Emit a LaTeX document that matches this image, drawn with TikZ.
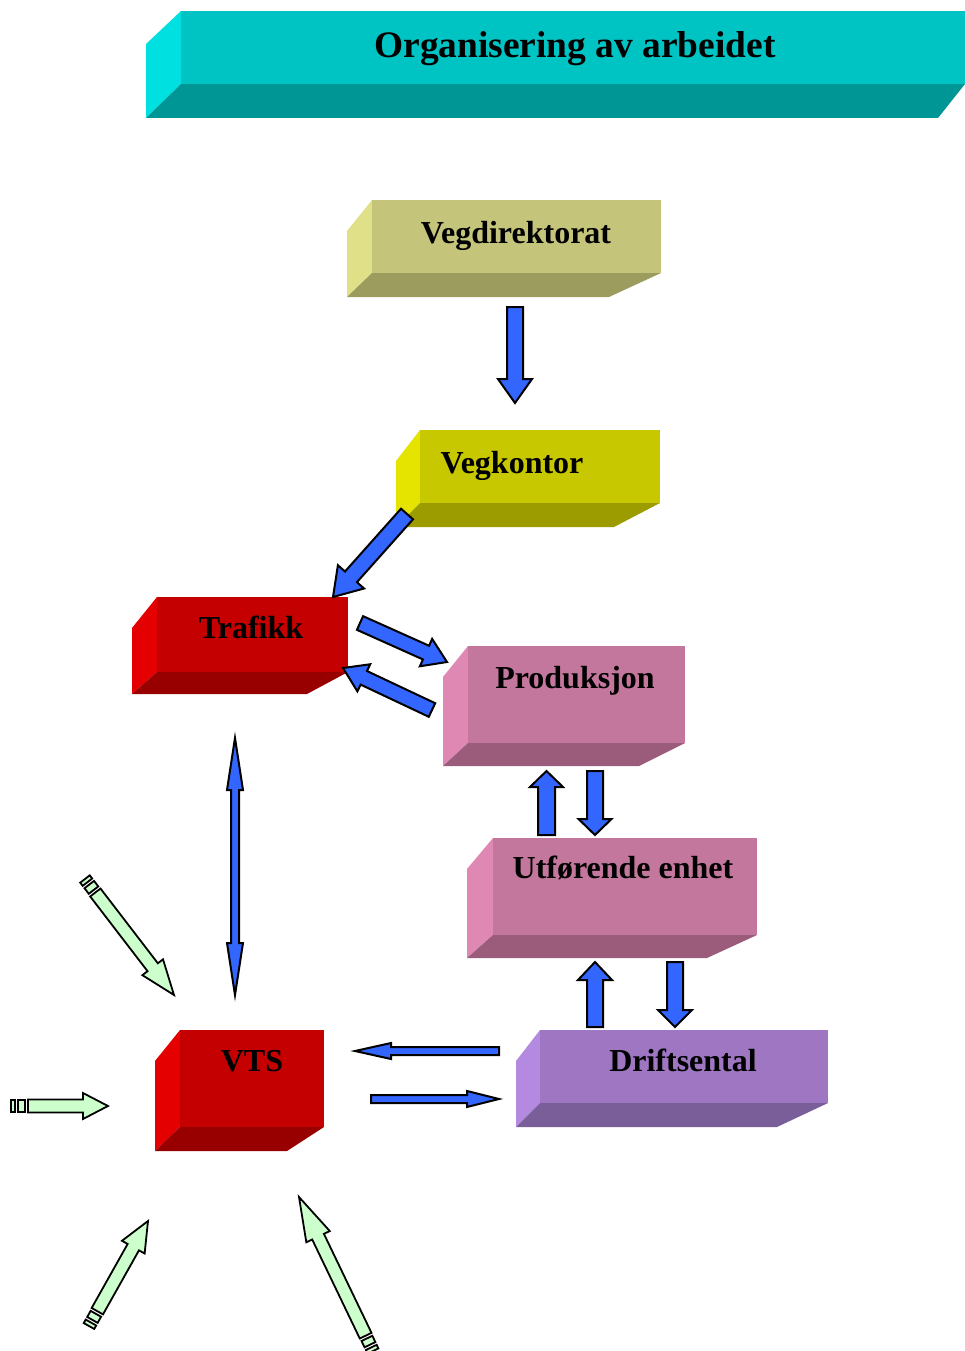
\documentclass[tikz,border=0pt]{standalone}
\usepackage{fontspec}
\setmainfont{Liberation Serif}
\usetikzlibrary{calc}

% palettes: -f front face, -s left side, -b bottom face
\definecolor{tt-f}{HTML}{00C4C4}\definecolor{tt-s}{HTML}{00E0E0}\definecolor{tt-b}{HTML}{009696}
\definecolor{vd-f}{HTML}{C4C47A}\definecolor{vd-s}{HTML}{E0E088}\definecolor{vd-b}{HTML}{9C9C5E}
\definecolor{vk-f}{HTML}{C8C800}\definecolor{vk-s}{HTML}{E4E400}\definecolor{vk-b}{HTML}{9C9C00}
\definecolor{rd-f}{HTML}{C40000}\definecolor{rd-s}{HTML}{E40000}\definecolor{rd-b}{HTML}{980000}
\definecolor{pk-f}{HTML}{C4779C}\definecolor{pk-s}{HTML}{E088B4}\definecolor{pk-b}{HTML}{9A5C7A}
\definecolor{pu-f}{HTML}{9E76C2}\definecolor{pu-s}{HTML}{B48AE0}\definecolor{pu-b}{HTML}{7A5E9A}
\definecolor{arrowblue}{HTML}{3366FF}
\definecolor{arrowgreen}{HTML}{CCFFCC}

\newcommand\slabtop{31}
% 3D slab: name, palette, x1, y1, x2, y2 (front face), left x, bottom y, bottom-right x
\newcommand\slab[9]{%
  \fill[#2-s] (#3,#4) -- (#7,#4+\slabtop) -- (#7,#8) -- (#3,#6) -- cycle;
  \fill[#2-b] (#3,#6) -- (#5,#6) -- (#9,#8) -- (#7,#8) -- cycle;
  \node[fill=#2-f, inner sep=0pt, outer sep=0pt, anchor=north west,
        minimum width={(#5-#3)*1pt}, minimum height={(#6-#4)*1pt}] (#1) at (#3,#4) {};
}
% block arrow: style, tail, tip, half shaft, half head, head length
\newcommand\blockarrow[6]{%
  \coordinate (ba-b) at ($(#3)!#6!(#2)$);
  \draw[#1] ($(#2)!#4!90:(#3)$) -- ($(ba-b)!#4!90:(#3)$) -- ($(ba-b)!#5!90:(#3)$) -- (#3)
    -- ($(ba-b)!#5!-90:(#3)$) -- ($(ba-b)!#4!-90:(#3)$) -- ($(#2)!#4!-90:(#3)$) -- cycle;
}
% double-headed block arrow: style, tip A, tip B, half shaft, half head, head length
\newcommand\dblarrow[6]{%
  \coordinate (da-a) at ($(#2)!#6!(#3)$);
  \coordinate (da-b) at ($(#3)!#6!(#2)$);
  \draw[#1] (#2) -- ($(da-a)!#5!90:(#3)$) -- ($(da-a)!#4!90:(#3)$) -- ($(da-b)!#4!90:(#3)$)
    -- ($(da-b)!#5!90:(#3)$) -- (#3) -- ($(da-b)!#5!-90:(#3)$) -- ($(da-b)!#4!-90:(#3)$)
    -- ($(da-a)!#4!-90:(#3)$) -- ($(da-a)!#5!-90:(#3)$) -- cycle;
}
% striped arrow: tail, tip, head length
\newcommand\stripearrow[3]{%
  \coordinate (sa-1) at ($(#1)!4pt!(#2)$);
  \coordinate (sa-2) at ($(#1)!7pt!(#2)$);
  \coordinate (sa-3) at ($(#1)!14pt!(#2)$);
  \coordinate (sa-4) at ($(#1)!17pt!(#2)$);
  \draw[greenarrow] ($(#1)!6pt!90:(#2)$) -- ($(sa-1)!6pt!90:(#2)$) -- ($(sa-1)!6pt!-90:(#2)$) -- ($(#1)!6pt!-90:(#2)$) -- cycle;
  \draw[greenarrow] ($(sa-2)!6pt!90:(#2)$) -- ($(sa-3)!6pt!90:(#2)$) -- ($(sa-3)!6pt!-90:(#2)$) -- ($(sa-2)!6pt!-90:(#2)$) -- cycle;
  \blockarrow{greenarrow}{sa-4}{#2}{6.5pt}{13pt}{#3}
}

\tikzset{
  lbl/.style={font=\fontsize{32}{36}\selectfont\bfseries, text=black, inner sep=0pt},
  titlelbl/.style={font=\fontsize{37.4}{42}\selectfont\bfseries, text=black, inner sep=0pt},
  bluearrow/.style={fill=arrowblue, draw=black, line width=2pt},
  greenarrow/.style={fill=arrowgreen, draw=black, line width=1.8pt},
}

\begin{document}
\begin{tikzpicture}[x=1pt,y=-1pt]
\fill[white] (0,0) rectangle (965,1351);
\useasboundingbox (0,0) rectangle (965,1351);

% title banner
\renewcommand\slabtop{33}
\slab{title}{tt}{181}{11}{965}{84}{146}{118}{938}
\renewcommand\slabtop{31}
\node[titlelbl, anchor=base] (title-text) at (575,58) {Organisering av arbeidet};

% organisation blocks
\slab{vegdir}{vd}{372}{200}{661}{273}{347}{297}{609}
\node[lbl, anchor=base] (vegdir-text) at (516,243) {Vegdirektorat};

\slab{vegkontor}{vk}{420}{430}{660}{503}{396}{527}{614}
\node[lbl, anchor=base] (vegkontor-text) at (512,473) {Vegkontor};

\slab{trafikk}{rd}{157}{597}{348}{672}{132}{694}{307}
\node[lbl, anchor=base] (trafikk-text) at (251,638) {Trafikk};

\slab{produksjon}{pk}{468}{646}{685}{743}{443}{766}{639}
\node[lbl, anchor=base] (produksjon-text) at (575,688) {Produksjon};

\slab{utforende}{pk}{493}{838}{757}{935}{467}{958}{707}
\node[lbl, anchor=base] (utforende-text) at (623,878) {Utførende enhet};

\slab{driftsental}{pu}{540}{1030}{828}{1103}{516}{1127}{777}
\node[lbl, anchor=base] (driftsental-text) at (683,1071) {Driftsental};

\slab{vts}{rd}{180}{1030}{324}{1127}{155}{1151}{287}
\node[lbl, anchor=base] (vts-text) at (252,1071) {VTS};

% connector end points
\coordinate (a1t) at (515,307);   \coordinate (a1h) at (515,403);
\coordinate (a2t) at (407,514);   \coordinate (a2h) at (333,597);
\coordinate (a3t) at (360,623);   \coordinate (a3h) at (447,662);
\coordinate (a4t) at (432,710);   \coordinate (a4h) at (343,668);
\coordinate (a5t) at (546.5,835); \coordinate (a5h) at (546.5,771);
\coordinate (a6t) at (595,771);   \coordinate (a6h) at (595,835);
\coordinate (a7t) at (595,1027);  \coordinate (a7h) at (595,962);
\coordinate (a8t) at (675,962);   \coordinate (a8h) at (675,1027);
\coordinate (a9t) at (499,1051);  \coordinate (a9h) at (355,1051);
\coordinate (a10t) at (371,1099); \coordinate (a10h) at (499,1099);
\coordinate (d1) at (235,738);    \coordinate (d2) at (235,995);

\blockarrow{bluearrow}{a1t}{a1h}{8pt}{17pt}{24pt}
\blockarrow{bluearrow}{a2t}{a2h}{8pt}{17.5pt}{27pt}
\blockarrow{bluearrow}{a3t}{a3h}{7.5pt}{15pt}{23pt}
\blockarrow{bluearrow}{a4t}{a4h}{7.5pt}{15pt}{23pt}
\blockarrow{bluearrow}{a5t}{a5h}{8.5pt}{16.5pt}{16pt}
\blockarrow{bluearrow}{a6t}{a6h}{8pt}{16.5pt}{16pt}
\blockarrow{bluearrow}{a7t}{a7h}{8pt}{17pt}{18pt}
\blockarrow{bluearrow}{a8t}{a8h}{8pt}{17pt}{17pt}
\blockarrow{bluearrow}{a9t}{a9h}{4pt}{8pt}{36pt}
\blockarrow{bluearrow}{a10t}{a10h}{4pt}{8pt}{32pt}
\dblarrow{bluearrow}{d1}{d2}{4pt}{8pt}{52pt}

% incoming striped arrows around VTS
\coordinate (g1t) at (85,879);   \coordinate (g1h) at (174,995);
\coordinate (g2t) at (11,1106);  \coordinate (g2h) at (108,1106);
\coordinate (g3t) at (89,1326);  \coordinate (g3h) at (148,1221);
\coordinate (g4t) at (373,1351); \coordinate (g4h) at (299,1197);
\stripearrow{g1t}{g1h}{35pt}
\stripearrow{g2t}{g2h}{25pt}
\stripearrow{g3t}{g3h}{30pt}
\stripearrow{g4t}{g4h}{44pt}
\end{tikzpicture}
\end{document}
